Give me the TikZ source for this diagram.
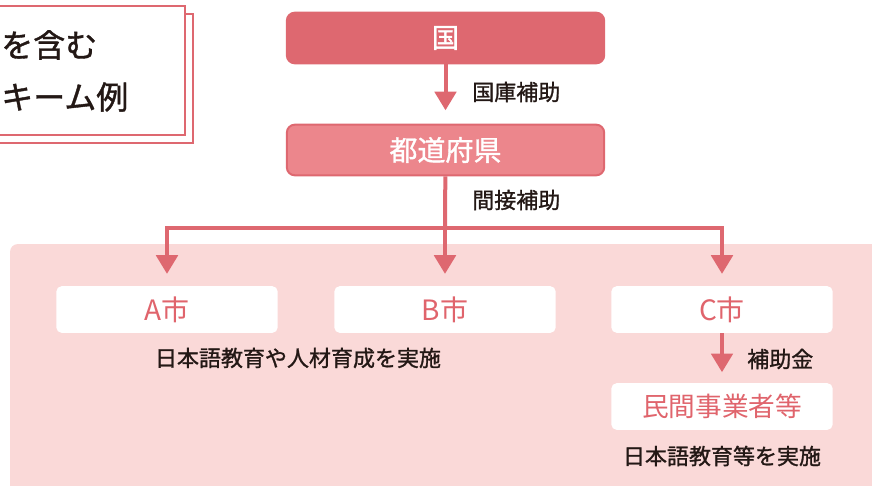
\documentclass[tikz,border=0pt]{standalone}
\usepackage{fontspec}
\setmainfont{Noto Sans CJK JP}
\newfontfamily\medfont{Noto Sans CJK JP}[FakeBold=1.2]
\usepackage{tikz}
\usetikzlibrary{arrows.meta, positioning, calc}
\definecolor{mainRed}{HTML}{DE6870}
\definecolor{lightRed}{HTML}{EC868C}
\definecolor{areaPink}{HTML}{FAD9D8}
\definecolor{inkDark}{HTML}{231815}
\definecolor{cityRed}{HTML}{E0646C}
\tikzset{
    % Boxes
    govBox/.style={rectangle, rounded corners=6pt, draw=mainRed, line width=1.5pt, fill=mainRed,
        minimum width=238pt, minimum height=38pt, text=white, font=\medfont\fontsize{20.5}{22}\selectfont},
    prefBox/.style={govBox, fill=lightRed, font=\medfont\fontsize{21}{22}\selectfont},
    cityBox/.style={rectangle, rounded corners=4pt, fill=white, draw=none,
        minimum width=166pt, minimum height=35pt, text=cityRed, font=\fontsize{21}{22}\selectfont},
    % Texts
    flowLabel/.style={font=\medfont\fontsize{16.5}{18}\selectfont, text=inkDark, inner sep=0pt},
    titleText/.style={font=\medfont\fontsize{24}{26}\selectfont, text=inkDark, inner sep=0pt, anchor=west},
    % Arrows
    flowArrow/.style={-{Triangle[width=16pt,length=14pt]}, line width=3pt, draw=mainRed},
    flowLine/.style={line width=3pt, draw=mainRed}
}
\begin{document}
\begin{tikzpicture}[x=0.75pt, y=-0.75pt]
    \useasboundingbox (0,0) rectangle (872,486);
    \clip (0,0) rectangle (872,486);
    % title card
    \draw[draw=mainRed, line width=1.5pt, fill=white] (-20,14) rectangle (193,143);
    \draw[draw=mainRed, line width=1.5pt, fill=white] (-20,6) rectangle (185,135);
    \node[titleText] (titleA) at (1,45) {を含む};
    \node[titleText] (titleB) at (1,97) {キーム例};
    % area
    \fill[areaPink, rounded corners=6pt] (10,244) rectangle (900,520);
    % top
    \node[govBox] (kuni) at (445.5,38) {国};
    \node[prefBox] (ken) at (445.5,150) {都道府県};
    \draw[flowArrow, shorten >=10pt] (kuni) -- (ken);
    \node[flowLabel, anchor=west] (lblKoko) at (472,92) {国庫補助};
    % cities
    \node[cityBox] (cityA) at (167,309.5) {A市};
    \node[cityBox] (cityB) at (445,309.5) {B市};
    \node[cityBox] (cityC) at (722,309.5) {C市};
    \node[cityBox, font=\fontsize{20}{22}\selectfont] (minkan) at (722,406.5) {民間事業者等};
    \coordinate (split) at (445,228);
    \draw[flowLine] (ken) -- (split);
    \node[flowLabel, anchor=west] (lblKansetsu) at (472,200) {間接補助};
    \draw[flowArrow, shorten >=9pt] ([xshift=-1.1pt]split) -| (cityA);
    \draw[flowArrow, shorten >=9pt] (split) -- (cityB);
    \draw[flowArrow, shorten >=9pt] ([xshift=1.1pt]split) -| (cityC);
    \draw[flowArrow, shorten >=8pt] (cityC) -- (minkan);
    \node[flowLabel, anchor=west] (lblHojo) at (747,359) {補助金};
    \node[flowLabel] (noteAB) at (298,358) {日本語教育や人材育成を実施};
    \node[flowLabel] (noteC) at (722,456) {日本語教育等を実施};
\end{tikzpicture}
\end{document}
